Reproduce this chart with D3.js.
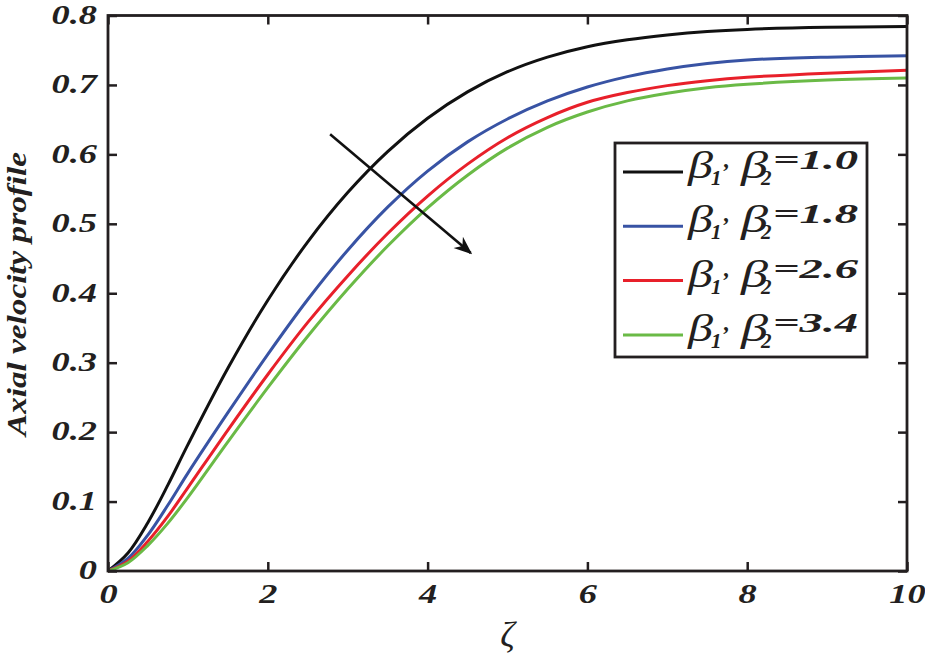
<!DOCTYPE html>
<html><head><meta charset="utf-8">
<script src="https://cdn.jsdelivr.net/npm/d3@7"></script>
<style>
html,body{margin:0;padding:0;background:#fff;}
svg{display:block;}
text{font-family:"Liberation Serif","Times New Roman",serif;}
</style></head>
<body>
<svg id="chart" width="925" height="654"></svg>
<script>
// ---- data ----
const zeta = [0,0.25,0.5,0.75,1,1.5,2,2.5,3,3.5,4,4.5,5,5.5,6,6.5,7,7.5,8,9,10];
const v1_0 = [0,0.026,0.070,0.124,0.182,0.292,0.390,0.474,0.545,0.604,0.652,0.690,0.719,0.740,0.755,0.765,0.772,0.777,0.780,0.783,0.784];
const v1_8 = [0,0.018,0.052,0.095,0.141,0.228,0.312,0.391,0.462,0.524,0.576,0.618,0.651,0.677,0.697,0.712,0.723,0.731,0.736,0.740,0.742];
const v2_6 = [0,0.014,0.043,0.079,0.120,0.203,0.283,0.358,0.425,0.486,0.540,0.586,0.624,0.653,0.675,0.689,0.699,0.706,0.711,0.717,0.721];
const v3_4 = [0,0.012,0.037,0.069,0.106,0.186,0.264,0.338,0.406,0.468,0.523,0.570,0.609,0.639,0.661,0.677,0.688,0.696,0.701,0.707,0.710];
const seriesNames = ["1.0","1.8","2.6","3.4"];
const seriesValues = [v1_0, v1_8, v2_6, v3_4];
const seriesColors = ["#111111","#3853a4","#e8202a","#6aba46"];
const xTicks = [0,2,4,6,8,10];
const yTicks = [0,0.1,0.2,0.3,0.4,0.5,0.6,0.7,0.8];
const arrowFrom = [2.78,0.629], arrowTo = [4.54,0.458];
const yLabel = "Axial velocity profile";
const xLabel = "ζ";

// ---- layout ----
const svg = d3.select("#chart");
const L = 108, R = 907, T = 15.5, B = 571;
const x = d3.scaleLinear().domain([0,10]).range([L,R]);
const y = d3.scaleLinear().domain([0,0.8]).range([B,T]);
const axisColor = "#231f20";
const FF = "'Liberation Serif','Times New Roman',serif";

const defs = svg.append("defs");
defs.append("marker").attr("id","ah").attr("viewBox","0 0 10 10").attr("refX",9).attr("refY",5)
  .attr("markerWidth",7).attr("markerHeight",7).attr("markerUnits","strokeWidth").attr("orient","auto")
  .append("path").attr("d","M0,1 L10,5 L0,9 L3,5 Z").attr("fill","#111");

// curves
const line = d3.line().x(d=>x(d[0])).y(d=>y(d[1])).curve(d3.curveCatmullRom.alpha(0.5));
seriesValues.forEach((vals,i)=>{
  svg.append("path").datum(zeta.map((z,j)=>[z,vals[j]]))
    .attr("d",line).attr("fill","none").attr("stroke",seriesColors[i]).attr("stroke-width",3);
});

// axes (ticks inward, mirrored)
function styleAxis(g){
  g.attr("font-family",FF);
  g.select(".domain").remove();
  g.selectAll(".tick line").attr("stroke",axisColor).attr("stroke-width",2.5);
}
const fontTick = g => g.selectAll("text").attr("font-size",28).attr("font-weight","bold").attr("font-style","italic")
  .attr("font-family",FF).attr("fill","#231f20");

svg.append("g").attr("transform",`translate(0,${B})`)
  .call(d3.axisBottom(x).tickValues(xTicks).tickFormat(d3.format("d")).tickSize(-9).tickPadding(12))
  .call(styleAxis).call(fontTick)
  .call(g=>g.selectAll("text").attr("dy","0.71em").attr("transform","scale(1.3,1)"));
svg.append("g").attr("transform",`translate(0,${T})`)
  .call(d3.axisTop(x).tickValues(xTicks).tickSize(-9).tickFormat(""))
  .call(styleAxis);
svg.append("g").attr("transform",`translate(${L},0)`)
  .call(d3.axisLeft(y).tickValues(yTicks).tickFormat(d=>d===0?"0":d3.format(".1f")(d)).tickSize(-9).tickPadding(8.5))
  .call(styleAxis).call(fontTick)
  .call(g=>g.selectAll("text").attr("dy","0.28em").attr("transform","scale(1.3,1)"));
svg.append("g").attr("transform",`translate(${R},0)`)
  .call(d3.axisRight(y).tickValues(yTicks).tickSize(-9).tickFormat(""))
  .call(styleAxis);

// frame
svg.append("rect").attr("x",L).attr("y",T).attr("width",R-L).attr("height",B-T)
  .attr("fill","none").attr("stroke",axisColor).attr("stroke-width",2.8);

// axis labels
svg.append("text").attr("transform",`translate(26,294) rotate(-90)`)
  .attr("text-anchor","middle").attr("font-size",28).attr("font-weight","bold").attr("font-style","italic")
  .attr("fill","#231f20").attr("textLength",284).attr("lengthAdjust","spacingAndGlyphs").text(yLabel);
svg.append("text").attr("x",(L+R)/2).attr("y",647).attr("text-anchor","middle")
  .attr("font-size",36).attr("font-style","italic").attr("fill","#231f20").text(xLabel);

// arrow
svg.append("line").attr("x1",x(arrowFrom[0])).attr("y1",y(arrowFrom[1]))
  .attr("x2",x(arrowTo[0])).attr("y2",y(arrowTo[1]))
  .attr("stroke","#111").attr("stroke-width",2.6).attr("marker-end","url(#ah)");

// legend
const lg = svg.append("g").attr("transform","translate(615,143)");
lg.append("rect").attr("x",0).attr("y",0).attr("width",252).attr("height",214)
  .attr("fill","#fff").attr("stroke",axisColor).attr("stroke-width",2.8);
seriesNames.forEach((name,i)=>{
  const cy = 29 + i*54.3;
  const g = lg.append("g").attr("transform",`translate(0,${cy})`);
  g.append("line").attr("x1",8).attr("x2",68).attr("y1",0).attr("y2",0)
    .attr("stroke",seriesColors[i]).attr("stroke-width",3);
  const beta = (xx,w)=>g.append("text").attr("x",xx).attr("y",6).attr("font-size",37)
    .attr("font-style","italic").attr("fill","#231f20")
    .attr("textLength",w).attr("lengthAdjust","spacingAndGlyphs").text("β");
  const sub = (xx,t)=>g.append("text").attr("x",xx).attr("y",13).attr("font-size",21)
    .attr("font-weight","bold").attr("font-style","italic").attr("fill","#231f20").text(t);
  beta(73,25); sub(96,"1");
  g.append("text").attr("x",109).attr("y",-5).attr("font-size",24).attr("font-weight","bold")
    .attr("font-style","italic").attr("fill","#231f20").text(",");
  beta(126,27); sub(146,"2");
  g.append("text").attr("x",158).attr("y",-3).attr("font-size",27).attr("font-weight","bold")
    .attr("font-style","italic").attr("fill","#231f20")
    .attr("textLength",85).attr("lengthAdjust","spacingAndGlyphs").text("=" + name);
});
</script>
</body></html>
